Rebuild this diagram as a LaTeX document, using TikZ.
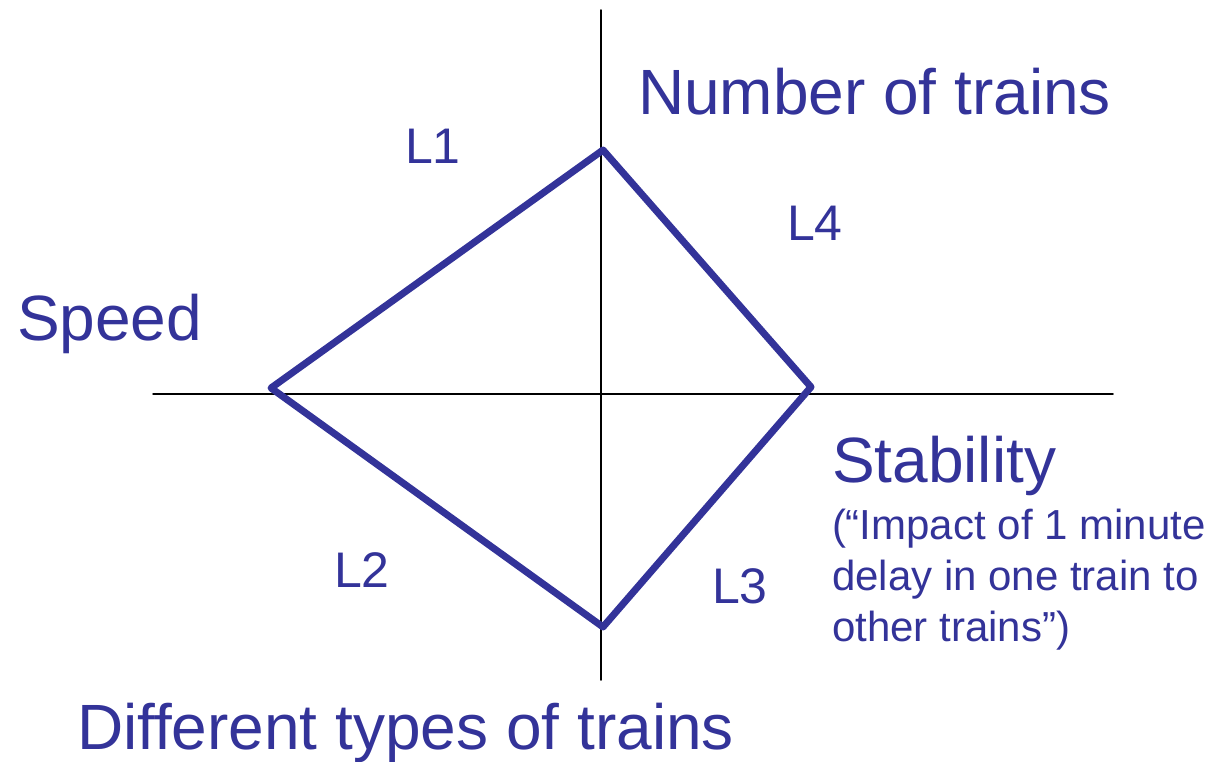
\documentclass[tikz,border=0pt]{standalone}
\usepackage{fontspec}
\setmainfont{Liberation Sans}
\definecolor{kiviblue}{RGB}{51,51,153}

\begin{document}
\begin{tikzpicture}[x=1bp, y=1bp, line cap=round, line join=round,
  axisline/.style={draw=black, line width=1.5bp},
  kiteline/.style={draw=kiviblue, line width=7bp},
  biglbl/.style={anchor=base west, inner sep=0pt, outer sep=0pt, text=kiviblue, font=\fontsize{64bp}{77bp}\selectfont},
  leglbl/.style={anchor=base west, inner sep=0pt, outer sep=0pt, text=kiviblue, font=\fontsize{50bp}{60bp}\selectfont},
  notelbl/.style={anchor=base west, inner sep=0pt, outer sep=0pt, text=kiviblue, align=left, font=\fontsize{42bp}{51bp}\selectfont}]
  \useasboundingbox (0,0) rectangle (1218,-762);
  % axes
  \coordinate (ytop) at (601,-10);
  \coordinate (ybot) at (601,-680);
  \coordinate (xleft) at (153,-394);
  \coordinate (xright) at (1113,-394);
  \path[axisline] (ytop) -- (ybot);
  \path[axisline] (xleft) -- (xright);
  % kite
  \coordinate (ktop) at (603,-150);
  \coordinate (kright) at (811,-387);
  \coordinate (kbot) at (603,-627);
  \coordinate (kleft) at (271,-388);
  \path[kiteline] (ktop) -- (kright) -- (kbot) -- (kleft) -- cycle;
  % axis labels
  \node[biglbl] (ntrains) at (638,-115) {Number of trains};
  \node[biglbl] (speed) at (17,-340) {Speed};
  \node[biglbl] (stability) at (832,-482) {Stability};
  \node[notelbl] (stabnote) at (832,-641) {(“Impact of 1 minute\\delay in one train to\\other trains”)};
  \node[biglbl] (types) at (77,-749) {Different types of trains};
  % leg labels
  \node[leglbl] (lone) at (405,-163) {L1};
  \node[leglbl] (ltwo) at (334,-587) {L2};
  \node[leglbl] (lthree) at (712,-603) {L3};
  \node[leglbl] (lfour) at (787,-240) {L4};
\end{tikzpicture}
\end{document}
